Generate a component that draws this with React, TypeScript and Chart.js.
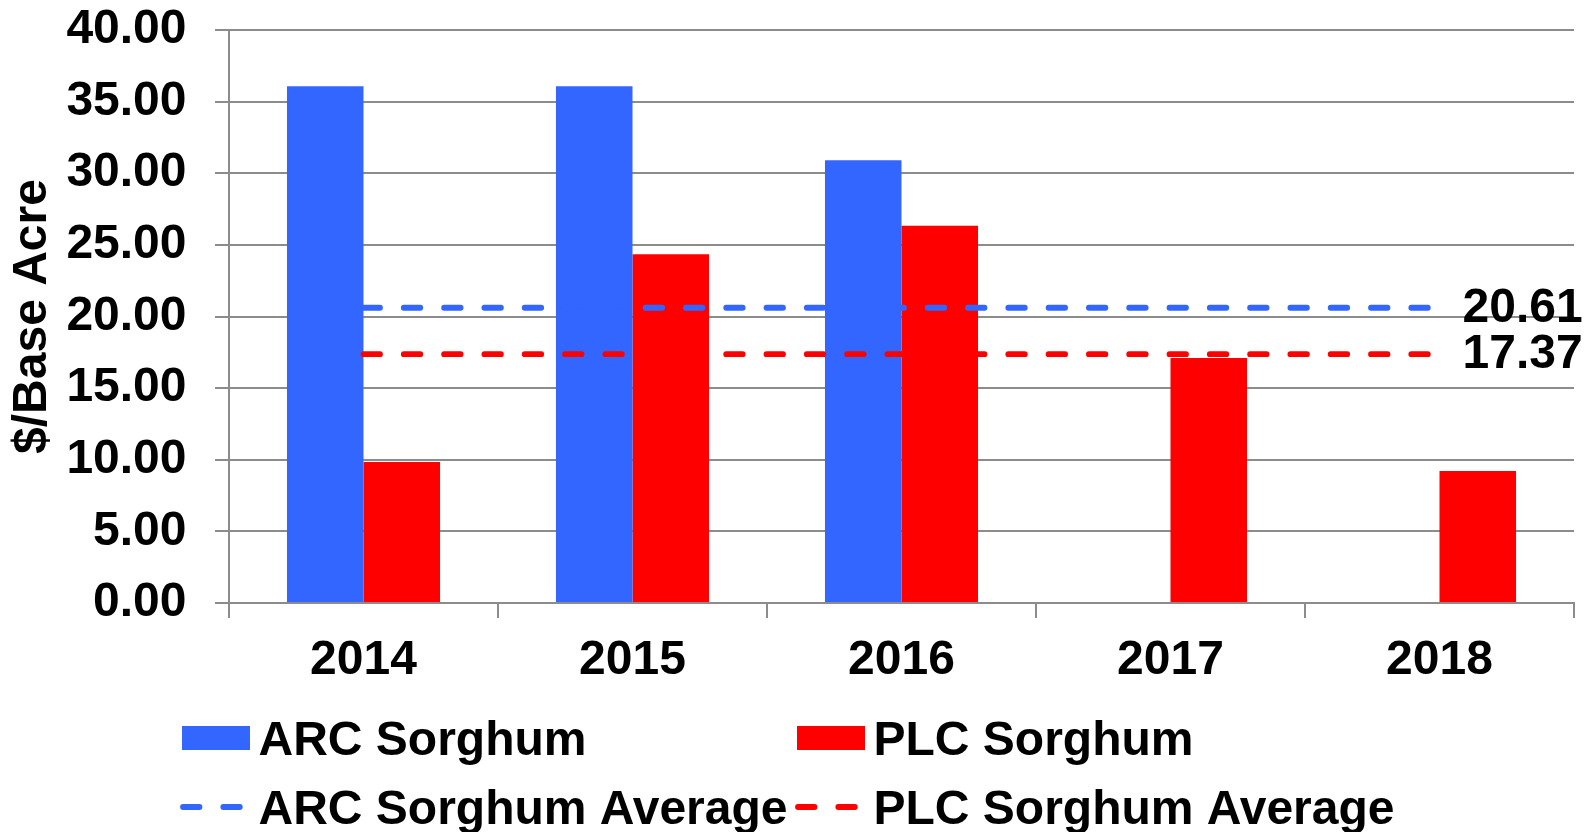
import React, { useEffect, useRef } from "react";
import { Chart, registerables } from "chart.js";

Chart.register(...registerables);

// ---- data ----
const years = ["2014", "2015", "2016", "2017", "2018"];
const arcSorghum = [36.07, 36.07, 30.91, 0, 0];
const plcSorghum = [9.85, 24.35, 26.33, 17.1, 9.22];
const arcSorghumAverage = [20.61, 20.61, 20.61, 20.61, 20.61];
const plcSorghumAverage = [17.37, 17.37, 17.37, 17.37, 17.37];
const seriesLabels = ["ARC Sorghum", "PLC Sorghum", "ARC Sorghum Average", "PLC Sorghum Average"];
const yAxisTitle = "$/Base Acre";

// ---- styles ----
const BLUE = "#3366FF";
const RED = "#FF0000";
const GRID = "#8c8c8c";
const FONT_FAMILY = "'Liberation Sans', Arial, Helvetica, sans-serif";
const FONT_SIZE = 48;
const DASH = [16.5, 23.8];
const LINE_W = 5.8;

const customLegend = {
  id: "customLegend",
  afterDraw(chart: any) {
    const ctx = chart.ctx as CanvasRenderingContext2D;
    const ds = chart.data.datasets;
    const cols = [182, 797];
    const rows = [738, 807];
    ctx.save();
    ctx.font = `bold ${FONT_SIZE}px ${FONT_FAMILY}`;
    ctx.textAlign = "left";
    ctx.textBaseline = "alphabetic";
    ds.forEach((d: any, i: number) => {
      const x = cols[i % 2];
      const y = rows[Math.floor(i / 2)];
      if (d.type === "line") {
        ctx.save();
        ctx.strokeStyle = d.borderColor;
        ctx.lineWidth = LINE_W;
        ctx.lineCap = "round";
        ctx.setLineDash(DASH);
        ctx.beginPath();
        ctx.moveTo(x + 1, y);
        ctx.lineTo(x + 58, y);
        ctx.stroke();
        ctx.restore();
      } else {
        ctx.fillStyle = d.backgroundColor;
        ctx.fillRect(x, y - 12, 68, 24);
      }
      ctx.fillStyle = "#000";
      ctx.fillText(d.label, x + 76.5, y + 16.5);
    });
    ctx.restore();
  },
};

const averageLabels = {
  id: "averageLabels",
  afterDraw(chart: any) {
    const ctx = chart.ctx as CanvasRenderingContext2D;
    ctx.save();
    ctx.font = `bold ${FONT_SIZE}px ${FONT_FAMILY}`;
    ctx.fillStyle = "#000";
    ctx.textAlign = "left";
    ctx.textBaseline = "middle";
    chart.data.datasets.forEach((d: any, i: number) => {
      if (d.type !== "line") return;
      const meta = chart.getDatasetMeta(i);
      const pts = meta.data;
      const last = pts[pts.length - 1];
      const v = d.data[d.data.length - 1];
      ctx.fillText(Number(v).toFixed(2), last.x + 23, last.y + 1);
    });
    ctx.restore();
  },
};

export default function App() {
  const ref = useRef<HTMLCanvasElement | null>(null);

  useEffect(() => {
    if (!ref.current) return;
    const font = { family: FONT_FAMILY, size: FONT_SIZE, weight: "bold" as const };
    const chart = new Chart(ref.current, {
      type: "bar",
      data: {
        labels: years,
        datasets: [
          {
            type: "bar",
            label: seriesLabels[0],
            data: arcSorghum,
            backgroundColor: BLUE,
            borderWidth: 0,
            order: 2,
          },
          {
            type: "bar",
            label: seriesLabels[1],
            data: plcSorghum,
            backgroundColor: RED,
            borderWidth: 0,
            order: 2,
          },
          {
            type: "line",
            label: seriesLabels[2],
            data: arcSorghumAverage,
            borderColor: BLUE,
            backgroundColor: BLUE,
            borderWidth: LINE_W,
            borderDash: DASH,
            borderCapStyle: "round",
            pointRadius: 0,
            fill: false,
            order: 1,
          },
          {
            type: "line",
            label: seriesLabels[3],
            data: plcSorghumAverage,
            borderColor: RED,
            backgroundColor: RED,
            borderWidth: LINE_W,
            borderDash: DASH,
            borderCapStyle: "round",
            pointRadius: 0,
            fill: false,
            order: 1,
          },
        ] as any,
      },
      options: {
        responsive: false,
        animation: false,
        devicePixelRatio: 1,
        datasets: {
          bar: { categoryPercentage: 0.569, barPercentage: 1 },
        },
        layout: { padding: { left: 0, right: 22, top: 30, bottom: 149 } },
        plugins: {
          legend: { display: false },
          tooltip: { enabled: false },
        },
        scales: {
          x: {
            offset: true,
            grid: {
              offset: true,
              drawOnChartArea: false,
              drawTicks: true,
              tickLength: 15,
              color: GRID,
              lineWidth: 2,
            },
            border: { display: true, color: GRID, width: 2 },
            ticks: { color: "#000", font, padding: 14, maxRotation: 0, autoSkip: false },
            afterFit: (s: any) => {
              s.height = 80;
              s.paddingLeft = 0;
              s.paddingRight = 0;
            },
          },
          y: {
            min: 0,
            max: 40,
            grid: { color: GRID, lineWidth: 2, tickLength: 14, drawTicks: true },
            border: { display: true, color: GRID, width: 2 },
            ticks: {
              stepSize: 5,
              color: "#000",
              font,
              padding: 28.5,
              callback: (v: any) => Number(v).toFixed(2),
            },
            title: {
              display: true,
              text: yAxisTitle,
              color: "#000",
              font,
              padding: { top: 4, bottom: 4 },
            },
            afterFit: (s: any) => {
              s.width = 229;
              s.paddingTop = 0;
              s.paddingBottom = 0;
            },
          },
        },
      },
      plugins: [customLegend, averageLabels],
    });
    return () => chart.destroy();
  }, []);

  return (
    <div style={{ position: "absolute", left: 0, top: 0, width: 1596, height: 832, background: "#fff" }}>
      <canvas ref={ref} width={1596} height={832} />
    </div>
  );
}
